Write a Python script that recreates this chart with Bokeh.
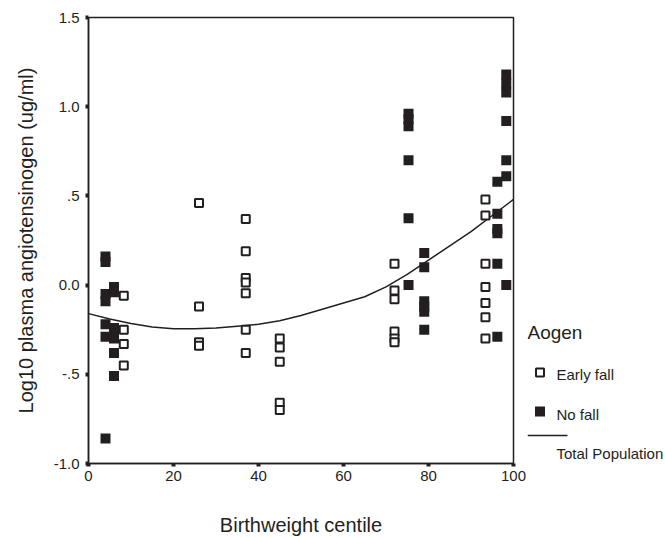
from bokeh.plotting import figure
from bokeh.layouts import row
from bokeh.models import Range1d, FixedTicker, ColumnDataSource
from bokeh.core.properties import value
from bokeh.embed import file_html
from bokeh.resources import INLINE

# Birthweight centile and log10 plasma angiotensinogen, by Aogen group
early_centile = [8.3, 8.3, 8.3, 8.3,
                 26, 26, 26, 26,
                 37, 37, 37, 37, 37, 37, 37,
                 45, 45, 45, 45, 45,
                 72, 72, 72, 72, 72, 72,
                 93.4, 93.4, 93.4, 93.4, 93.4, 93.4, 93.4]
early_log_aogen = [-0.06, -0.25, -0.33, -0.45,
                   0.46, -0.12, -0.32, -0.34,
                   0.37, 0.19, 0.04, 0.015, -0.045, -0.25, -0.38,
                   -0.30, -0.35, -0.43, -0.66, -0.70,
                   0.12, -0.03, -0.08, -0.26, -0.30, -0.32,
                   0.48, 0.39, 0.12, -0.01, -0.10, -0.18, -0.30]

nofall_centile = [4, 4, 4, 4, 4, 4, 4,
                  6, 6, 6, 6, 6, 6, 6,
                  75.3, 75.3, 75.3, 75.3, 75.3, 75.3,
                  79, 79, 79, 79, 79, 79,
                  96.2, 96.2, 96.2, 96.2, 96.2, 96.2,
                  98.3, 98.3, 98.3, 98.3, 98.3, 98.3, 98.3]
nofall_log_aogen = [0.16, 0.13, -0.05, -0.09, -0.22, -0.29, -0.86,
                    -0.01, -0.04, -0.24, -0.27, -0.30, -0.38, -0.51,
                    0.96, 0.93, 0.89, 0.70, 0.375, 0.0,
                    0.18, 0.10, -0.09, -0.12, -0.15, -0.25,
                    0.58, 0.40, 0.315, 0.29, 0.12, -0.29,
                    1.18, 1.13, 1.08, 0.92, 0.70, 0.61, 0.0]

# Fitted curve for the total population
fit_centile = [0, 5, 10, 15, 20, 25, 30, 35, 40, 45, 50,
               55, 60, 65, 70, 75, 80, 85, 90, 95, 100]
fit_log_aogen = [-0.16, -0.19, -0.215, -0.235, -0.245, -0.245, -0.24, -0.23,
                 -0.22, -0.20, -0.17, -0.135, -0.10, -0.065, -0.01, 0.06,
                 0.14, 0.22, 0.30, 0.39, 0.48]

x_ticks = [0, 20, 40, 60, 80, 100]
y_ticks = [-1.0, -0.5, 0.0, 0.5, 1.0, 1.5]
y_tick_labels = ["-1.0", "-.5", "0.0", ".5", "1.0", "1.5"]

INK = "#231f20"
FONT = "Liberation Sans"

p = figure(frame_width=425, frame_height=446,
           min_border_left=88, min_border_right=14,
           min_border_top=17, min_border_bottom=75,
           x_range=Range1d(0, 100), y_range=Range1d(-1.0, 1.5),
           output_backend="svg", toolbar_location=None)

p.xgrid.visible = False
p.ygrid.visible = False
p.outline_line_color = INK
p.outline_line_width = 1.5
p.background_fill_color = "white"
p.border_fill_color = "white"

p.xaxis.ticker = FixedTicker(ticks=x_ticks)
p.yaxis.ticker = FixedTicker(ticks=y_ticks)
p.yaxis.major_label_overrides = {t: s for t, s in zip(y_ticks, y_tick_labels)}

for ax in (p.xaxis[0], p.yaxis[0]):
    ax.axis_line_color = INK
    ax.axis_line_width = 1.5
    ax.major_tick_line_color = INK
    ax.major_tick_line_width = 4
    ax.major_tick_out = 3
    ax.major_tick_in = 0
    ax.minor_tick_line_color = None
    ax.major_label_text_font = FONT
    ax.major_label_text_font_size = "15px"
    ax.major_label_text_color = INK
    ax.axis_label_text_font = FONT
    ax.axis_label_text_font_size = "20px"
    ax.axis_label_text_font_style = "normal"
    ax.axis_label_text_color = INK

p.xaxis.axis_label = "Birthweight centile"
p.xaxis.major_label_standoff = 4
p.xaxis.axis_label_standoff = 30
p.yaxis.axis_label = "Log10 plasma angiotensinogen (ug/ml)"
p.yaxis.major_label_standoff = 6
p.yaxis.axis_label_standoff = 14

p.line(fit_centile, fit_log_aogen, line_color=INK, line_width=1.5)

early_src = ColumnDataSource(dict(x=early_centile, y=early_log_aogen))
nofall_src = ColumnDataSource(dict(x=nofall_centile, y=nofall_log_aogen))
p.scatter("x", "y", source=early_src, marker="square", size=8,
          fill_color="white", line_color=INK, line_width=2)
p.scatter("x", "y", source=nofall_src, marker="square", size=10,
          fill_color=INK, line_color=None)

# Legend panel to the right of the plot frame; its frame lines up with the
# main frame, and its ranges are in page pixels
lg = figure(frame_width=138, frame_height=446,
            min_border_left=0, min_border_right=0,
            min_border_top=17, min_border_bottom=75,
            x_range=Range1d(0, 138), y_range=Range1d(463, 17),
            x_axis_location=None, y_axis_location=None,
            output_backend="svg", toolbar_location=None)
lg.xgrid.visible = False
lg.ygrid.visible = False
lg.outline_line_color = None

lg.text(x=[0], y=[332], text=["Aogen"], text_font=value(FONT),
        text_font_size="19px", text_color=INK, text_baseline="middle")
lg.scatter(x=[12.5], y=[372], marker="square", size=8,
           fill_color="white", line_color=INK, line_width=2)
lg.text(x=[29], y=[374], text=["Early fall"], text_font=value(FONT),
        text_font_size="15px", text_color=INK, text_baseline="middle")
lg.scatter(x=[12.5], y=[411], marker="square", size=10,
           fill_color=INK, line_color=None)
lg.text(x=[29], y=[414], text=["No fall"], text_font=value(FONT),
        text_font_size="15px", text_color=INK, text_baseline="middle")
lg.line(x=[0, 40], y=[435, 435], line_color=INK, line_width=1.5)
lg.text(x=[29], y=[453], text=["Total Population"], text_font=value(FONT),
        text_font_size="15px", text_color=INK, text_baseline="middle")

layout = row(p, lg)
open("out.html", "w").write(file_html(layout, INLINE))
